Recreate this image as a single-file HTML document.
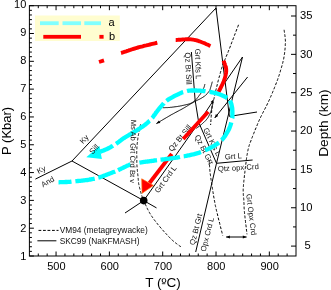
<!DOCTYPE html>
<html><head><meta charset="utf-8"><title>P-T diagram</title>
<style>html,body{margin:0;padding:0;background:#fff}body{width:331px;height:290px;overflow:hidden}</style></head>
<body>
<svg width="331" height="290" viewBox="0 0 331 290" style="display:block;font-family:'Liberation Sans',sans-serif">
<rect width="331" height="290" fill="#fff"/>
<rect x="35" y="15.5" width="84.8" height="25.5" fill="#FFFDD0"/>
<rect x="40" y="21.3" width="18.7" height="3.8" fill="#80FFFF"/>
<rect x="62.5" y="21.3" width="18.5" height="3.8" fill="#80FFFF"/>
<rect x="84.3" y="21.3" width="16.7" height="3.8" fill="#80FFFF"/>
<rect x="43.3" y="34.9" width="37.7" height="3.8" fill="#FF0000"/>
<rect x="99.4" y="34.9" width="4.2" height="3.8" fill="#FF0000"/>
<text x="108.6" y="26.3" font-size="11">a</text>
<text x="109" y="40" font-size="11">b</text>
<path d="M35.4,179.1 L72.0,161.0" stroke="#000" stroke-width="1" fill="none"/>
<path d="M72.0,161.0 L216.0,8.0" stroke="#000" stroke-width="1" fill="none"/>
<path d="M72.0,161.0 L143.7,200.6 L156.5,207.9" stroke="#000" stroke-width="1" fill="none"/>
<path d="M125.0,213.0 L143.7,200.6" stroke="#000" stroke-width="1" fill="none"/>
<path d="M143.7,200.6 L197.5,124.5 L213.3,100.6" stroke="#000" stroke-width="1" fill="none"/>
<path d="M191.4,52.0 L195.1,100.0 L198.4,120.5 L199.2,123.5 L216.5,163.3" stroke="#000" stroke-width="1" fill="none"/>
<path d="M242.5,57.0 L216.5,163.3 L195.7,252.0" stroke="#000" stroke-width="1" fill="none"/>
<path d="M242.5,57.0 L225.3,82.0" stroke="#000" stroke-width="1" fill="none"/>
<path d="M216.0,8.0 L229.4,116.4" stroke="#000" stroke-width="1" fill="none"/>
<path d="M229.4,116.4 L257.0,112.0" stroke="#000" stroke-width="1" fill="none"/>
<path d="M247.6,77.0 L214.7,118.0" stroke="#000" stroke-width="1" fill="none"/>
<path d="M216.5,163.3 L252.6,160.0" stroke="#000" stroke-width="1" fill="none"/>
<path d="M226.1,237.0 L246.6,237.0" stroke="#000" stroke-width="1" fill="none"/>
<path d="M205.0,84.0 L204.9,84.3 L204.8,84.6 L204.7,84.8 L204.7,85.1 L204.6,85.4 L204.5,85.6 L204.4,85.9 L204.4,86.2 L204.3,86.5 L204.2,86.7 L204.1,87.0 L204.0,87.3 L203.9,87.6 L203.8,87.9 L203.6,88.2 L203.5,88.5 L203.4,88.8 L203.2,89.1 L203.1,89.4 L202.9,89.8 L202.8,90.1 L202.6,90.4 L202.4,90.7 L202.3,91.1 L202.1,91.4 L201.9,91.8 L201.7,92.1 L201.4,92.5 L201.2,92.9 L200.9,93.3 L200.6,93.7 L200.3,94.1 L200.0,94.5 L199.6,95.0 L199.2,95.5 L198.8,96.1 L198.4,96.6 L198.0,97.2 L197.5,97.7 L197.1,98.3 L196.6,98.8 L196.1,99.4 L195.6,99.9 L195.1,100.4 L194.6,100.9 L194.0,101.4 L193.5,101.8 L192.9,102.2 L192.3,102.5 L191.7,102.9 L191.1,103.2 L190.5,103.4 L189.8,103.7 L189.2,103.9 L188.5,104.1 L187.8,104.3 L187.1,104.5 L186.4,104.6 L185.7,104.8 L185.0,105.0 L184.3,105.1 L183.5,105.3 L182.8,105.4 L182.1,105.6 L181.4,105.8 L180.6,105.9 L179.8,106.1 L179.1,106.2 L178.3,106.3 L177.4,106.5 L176.6,106.6 L175.8,106.7 L175.0,106.8 L174.2,106.9 L173.5,107.0 L172.7,107.1 L172.0,107.2 L171.3,107.3 L170.6,107.3 L170.0,107.4 L169.4,107.5 L168.9,107.5 L168.3,107.5 L167.8,107.6 L167.4,107.6 L166.9,107.6 L166.5,107.6 L166.0,107.6 L165.6,107.6 L165.2,107.7 L164.8,107.7 L164.4,107.7 L164.0,107.7 L163.6,107.7 L163.1,107.7 L162.7,107.7" stroke="#000" stroke-width="1" fill="none"/>
<path d="M196.0,128.5 L196.3,128.3 L196.6,128.1 L196.9,127.8 L197.2,127.6 L197.5,127.4 L197.8,127.2 L198.1,127.0 L198.4,126.8 L198.7,126.6 L199.0,126.4 L199.3,126.1 L199.7,125.9 L200.0,125.6 L200.3,125.4 L200.7,125.1 L201.0,124.8 L201.4,124.5 L201.7,124.2 L202.1,123.8 L202.5,123.5 L202.9,123.1 L203.3,122.7 L203.8,122.4 L204.2,122.0 L204.6,121.6 L205.0,121.2 L205.4,120.8 L205.8,120.4 L206.2,120.0 L206.5,119.5 L206.9,119.1 L207.2,118.7 L207.5,118.3 L207.8,117.8 L208.1,117.4 L208.4,117.0 L208.6,116.5 L208.9,116.1 L209.1,115.6 L209.3,115.1 L209.6,114.7 L209.8,114.2 L210.0,113.7 L210.2,113.2 L210.4,112.7 L210.6,112.2 L210.8,111.7 L211.0,111.2 L211.2,110.7 L211.4,110.1 L211.5,109.6 L211.7,109.0 L211.8,108.5 L211.9,107.9 L212.1,107.3 L212.2,106.7 L212.3,106.1 L212.4,105.5 L212.6,104.9 L212.7,104.3 L212.8,103.7 L212.9,103.2 L213.1,102.6 L213.2,102.0" stroke="#000" stroke-width="1" fill="none"/>
<path d="M212.3,81.7 L212.2,82.0 L212.1,82.4 L212.0,82.7 L211.9,83.0 L211.8,83.4 L211.8,83.7 L211.7,84.1 L211.6,84.4 L211.5,84.7 L211.4,85.1 L211.3,85.4 L211.2,85.7 L211.1,86.1 L211.0,86.4 L210.9,86.7 L210.8,87.0 L210.7,87.3 L210.6,87.6 L210.5,87.9 L210.5,88.1 L210.4,88.4 L210.3,88.7 L210.2,88.9 L210.1,89.2 L210.1,89.5 L210.0,89.7 L209.8,90.0 L209.7,90.3 L209.6,90.5 L209.4,90.8 L209.2,91.1 L209.0,91.4 L208.8,91.7 L208.5,92.0 L208.3,92.3 L208.0,92.7 L207.8,93.0 L207.5,93.3 L207.2,93.7 L206.8,94.0 L206.5,94.4 L206.2,94.7 L205.8,95.1 L205.4,95.4 L205.0,95.8 L204.5,96.1 L204.1,96.5 L203.6,96.8 L203.1,97.1 L202.5,97.5 L201.9,97.9 L201.3,98.2 L200.6,98.6 L200.0,98.9 L199.3,99.3 L198.6,99.6 L197.8,100.0 L197.1,100.3 L196.4,100.7 L195.7,101.1 L195.0,101.4 L194.3,101.8 L193.6,102.1 L193.0,102.5 L192.4,102.9 L191.8,103.2 L191.2,103.5 L190.6,103.9 L190.1,104.2 L189.5,104.6 L189.0,104.9 L188.4,105.2 L187.9,105.6 L187.3,105.9 L186.7,106.3 L186.1,106.7 L185.5,107.0 L184.9,107.4 L184.2,107.8 L183.5,108.2 L182.8,108.6 L182.0,109.0 L181.2,109.5 L180.4,109.9 L179.6,110.3 L178.7,110.8 L177.9,111.2 L177.0,111.7 L176.1,112.2 L175.2,112.6 L174.4,113.1 L173.5,113.6 L172.6,114.1 L171.7,114.5 L170.9,115.0 L170.0,115.5 L169.2,116.0 L168.3,116.5 L167.5,117.0 L166.6,117.5 L165.8,118.0 L164.9,118.5 L164.1,119.0 L163.2,119.5 L162.4,120.0 L161.5,120.5 L160.7,121.0 L159.8,121.6 L159.0,122.1 L158.1,122.6 L157.3,123.1 L156.4,123.6" stroke="#000" stroke-width="1" fill="none"/>
<path d="M156.4,123.6 L158.9,120.4 L160.4,122.9Z" fill="#000"/>
<path d="M214.7,118.0 L215.9,114.1 L218.2,116.0Z" fill="#000"/>
<path d="M213.5,99.4 L213.3,103.3 L210.6,102.0Z" fill="#000"/>
<path d="M226.1,237.0 L229.9,235.5 L229.9,238.5Z" fill="#000"/>
<path d="M246.6,237.0 L242.8,238.5 L242.8,235.5Z" fill="#000"/>
<path d="M140.5,124.4 L140.4,124.9 L140.3,125.5 L140.2,126.0 L140.1,126.6 L140.0,127.1 L139.8,127.7 L139.7,128.2 L139.6,128.8 L139.5,129.3 L139.4,129.9 L139.3,130.4 L139.2,131.0 L139.1,131.5 L139.0,132.0 L138.9,132.5 L138.8,133.0 L138.7,133.5 L138.6,133.9 L138.5,134.4 L138.5,134.8 L138.4,135.2 L138.3,135.6 L138.2,136.0 L138.1,136.4 L138.1,136.8 L138.0,137.2 L137.9,137.6 L137.9,138.1 L137.8,138.5 L137.7,139.0 L137.7,139.5 L137.6,140.0 L137.5,140.5 L137.5,141.1 L137.4,141.7 L137.4,142.3 L137.3,143.0 L137.2,143.6 L137.2,144.3 L137.1,144.9 L137.1,145.6 L137.0,146.3 L137.0,146.9 L136.9,147.6 L136.9,148.2 L136.9,148.8 L136.8,149.4 L136.8,150.0 L136.8,150.6 L136.8,151.1 L136.7,151.6 L136.7,152.1 L136.7,152.6 L136.7,153.1 L136.7,153.6 L136.7,154.1 L136.7,154.6 L136.8,155.1 L136.8,155.5 L136.8,156.0 L136.8,156.5 L136.8,157.0 L136.8,157.5 L136.8,158.0 L136.8,158.5 L136.8,159.0 L136.8,159.5 L136.8,160.0 L136.8,160.5 L136.8,161.0 L136.8,161.6 L136.8,162.1 L136.8,162.6 L136.9,163.1 L136.9,163.6 L136.9,164.2 L136.9,164.7 L136.9,165.3 L137.0,165.8 L137.0,166.4 L137.0,167.0 L137.1,167.6 L137.1,168.2 L137.2,168.9 L137.3,169.5 L137.3,170.2 L137.4,170.8 L137.5,171.5 L137.5,172.1 L137.6,172.8 L137.7,173.5 L137.7,174.1 L137.8,174.7 L137.9,175.3 L137.9,175.9 L138.0,176.5 L138.1,177.0 L138.1,177.6 L138.1,178.1 L138.2,178.6 L138.2,179.1 L138.3,179.6 L138.3,180.0 L138.3,180.5 L138.4,180.9 L138.4,181.4 L138.5,181.9 L138.5,182.3 L138.6,182.8 L138.6,183.3 L138.7,183.8 L138.8,184.3 L138.9,184.8 L139.0,185.4 L139.1,185.9 L139.2,186.4 L139.4,187.0 L139.5,187.5 L139.6,188.1 L139.8,188.7 L139.9,189.2 L140.1,189.8 L140.2,190.3 L140.4,190.9 L140.5,191.4 L140.7,192.0 L140.8,192.5 L141.0,193.0 L141.1,193.5 L141.3,194.0 L141.4,194.4 L141.6,194.9 L141.7,195.3 L141.8,195.7 L142.0,196.1 L142.1,196.5 L142.2,197.0 L142.4,197.4 L142.6,197.9 L142.8,198.4 L143.0,198.9 L143.2,199.4 L143.4,200.0 L143.7,200.6 L144.0,201.3 L144.3,202.0 L144.6,202.7 L145.0,203.5 L145.3,204.3 L145.7,205.1 L146.1,205.9 L146.5,206.8 L146.9,207.6 L147.3,208.5 L147.7,209.4 L148.2,210.2 L148.6,211.1 L149.1,211.9 L149.5,212.7 L150.0,213.5 L150.5,214.3 L150.9,215.0 L151.4,215.8 L151.9,216.5 L152.4,217.2 L152.9,217.9 L153.4,218.7 L153.9,219.4 L154.5,220.1 L155.0,220.8 L155.6,221.5 L156.2,222.3 L156.8,223.0 L157.4,223.8 L158.0,224.6 L158.7,225.4 L159.4,226.2 L160.1,227.1 L160.9,228.0 L161.7,228.9 L162.5,229.9 L163.4,230.8 L164.2,231.8 L165.1,232.7 L166.0,233.7 L166.8,234.6 L167.7,235.5 L168.5,236.4 L169.4,237.3 L170.2,238.1 L170.9,238.9 L171.7,239.6 L172.4,240.3 L173.1,240.9 L173.8,241.5 L174.5,242.1 L175.2,242.6 L175.8,243.1 L176.5,243.6 L177.1,244.1 L177.7,244.5 L178.4,245.0 L179.0,245.4 L179.6,245.9 L180.3,246.3 L180.9,246.8 L181.5,247.3 L182.2,247.8" stroke="#000" stroke-width="1" fill="none" stroke-dasharray="2.8,1.7"/>
<path d="M238.5,24.8 L237.9,26.5 L237.2,28.2 L236.5,30.0 L235.9,31.7 L235.2,33.5 L234.5,35.3 L233.8,37.1 L233.2,38.8 L232.5,40.6 L231.8,42.3 L231.2,44.0 L230.6,45.6 L230.0,47.2 L229.4,48.7 L228.8,50.1 L228.3,51.5 L227.8,52.8 L227.3,53.9 L226.9,55.0 L226.4,56.0 L226.0,57.0 L225.6,57.9 L225.3,58.8 L224.9,59.6 L224.5,60.5 L224.2,61.3 L223.8,62.2 L223.5,63.1 L223.1,64.0 L222.7,65.0 L222.4,66.1 L222.0,67.2 L221.6,68.4 L221.2,69.8 L220.8,71.2 L220.4,72.6 L220.0,74.2 L219.6,75.7 L219.1,77.3 L218.7,78.8 L218.3,80.4 L217.9,81.9 L217.6,83.4 L217.2,84.8 L216.9,86.1 L216.6,87.4 L216.3,88.6 L216.0,89.6 L215.8,90.5 L215.6,91.4 L215.4,92.2 L215.2,92.9 L215.1,93.5 L214.9,94.1 L214.8,94.7 L214.7,95.2 L214.6,95.6 L214.6,96.1 L214.5,96.5 L214.4,96.9 L214.3,97.3 L214.2,97.7 L214.1,98.2 L214.0,98.6 L213.9,99.0 L213.8,99.3 L213.7,99.6 L213.6,99.8 L213.4,100.0 L213.3,100.2 L213.2,100.4 L213.1,100.5 L213.0,100.8 L212.9,101.0 L212.8,101.3 L212.7,101.6 L212.6,102.1 L212.5,102.6 L212.4,103.2 L212.3,104.0 L212.2,104.9 L212.1,105.9 L212.0,107.0 L211.9,108.2 L211.8,109.4 L211.7,110.7 L211.6,112.1 L211.5,113.5 L211.3,115.0 L211.2,116.4 L211.1,117.9 L211.0,119.4 L210.9,120.8 L210.8,122.3 L210.7,123.7 L210.6,125.0" stroke="#000" stroke-width="1" fill="none" stroke-dasharray="2.8,1.7"/>
<path d="M209.2,160.0 L209.2,160.7 L209.3,161.5 L209.3,162.2 L209.4,163.0 L209.4,163.7 L209.5,164.5 L209.5,165.2 L209.5,166.0 L209.6,166.7 L209.6,167.5 L209.7,168.2 L209.7,169.0 L209.8,169.7 L209.9,170.5 L209.9,171.2 L210.0,172.0 L210.1,172.8 L210.2,173.5 L210.3,174.2 L210.4,175.0 L210.5,175.7 L210.6,176.4 L210.7,177.2 L210.8,177.9 L210.9,178.7 L211.0,179.4 L211.1,180.2 L211.3,181.0 L211.4,181.8 L211.5,182.6 L211.7,183.5 L211.8,184.4 L211.9,185.3 L212.1,186.3 L212.3,187.3 L212.4,188.4 L212.6,189.4 L212.8,190.5 L212.9,191.6 L213.1,192.7 L213.3,193.9 L213.5,194.9 L213.6,196.0 L213.8,197.1 L214.0,198.1 L214.2,199.1 L214.3,200.1 L214.5,201.0 L214.7,201.8 L214.8,202.6 L214.9,203.3 L215.1,204.0 L215.2,204.6 L215.3,205.3 L215.4,205.9 L215.6,206.5 L215.7,207.1 L215.8,207.7 L216.0,208.4 L216.2,209.1 L216.3,209.9 L216.5,210.7 L216.8,211.7 L217.0,212.7 L217.3,213.8 L217.6,215.0 L217.9,216.3 L218.2,217.6 L218.5,219.0 L218.9,220.4 L219.3,221.9 L219.7,223.4 L220.0,224.9 L220.4,226.5 L220.8,228.0 L221.2,229.5 L221.6,231.1 L222.0,232.6 L222.3,234.1 L222.7,235.5" stroke="#000" stroke-width="1" fill="none" stroke-dasharray="2.8,1.7"/>
<path d="M284.1,29.8 L284.2,30.5 L284.3,31.3 L284.4,32.0 L284.5,32.7 L284.6,33.4 L284.7,34.1 L284.8,34.8 L284.9,35.5 L285.0,36.3 L285.1,37.0 L285.2,37.7 L285.3,38.5 L285.3,39.3 L285.4,40.0 L285.4,40.9 L285.4,41.7 L285.4,42.6 L285.4,43.5 L285.3,44.4 L285.3,45.3 L285.2,46.3 L285.2,47.2 L285.1,48.2 L285.0,49.2 L284.9,50.2 L284.8,51.2 L284.7,52.2 L284.6,53.2 L284.4,54.2 L284.3,55.1 L284.2,56.1 L284.0,57.0 L283.8,57.9 L283.7,58.8 L283.5,59.7 L283.3,60.7 L283.0,61.6 L282.8,62.5 L282.6,63.4 L282.3,64.3 L282.1,65.2 L281.9,66.0 L281.6,66.9 L281.4,67.7 L281.1,68.6 L280.9,69.4 L280.6,70.2 L280.4,71.0 L280.2,71.8 L280.0,72.5 L279.8,73.1 L279.6,73.8 L279.4,74.4 L279.2,75.0 L279.0,75.6 L278.8,76.1 L278.6,76.7 L278.4,77.4 L278.2,78.0 L277.9,78.7 L277.7,79.4 L277.4,80.2 L277.1,81.1 L276.7,82.0 L276.3,83.0 L275.9,84.1 L275.4,85.2 L275.0,86.4 L274.5,87.6 L274.0,88.9 L273.5,90.1 L272.9,91.5 L272.4,92.8 L271.8,94.1 L271.3,95.4 L270.7,96.7 L270.1,98.0 L269.6,99.3 L269.0,100.5 L268.5,101.7 L268.0,102.8 L267.4,103.9 L266.9,105.0 L266.4,106.1 L265.8,107.1 L265.3,108.2 L264.7,109.2 L264.2,110.2 L263.7,111.2 L263.1,112.3 L262.6,113.3 L262.0,114.4 L261.5,115.5 L260.9,116.6 L260.4,117.8 L259.8,119.0 L259.2,120.3 L258.6,121.6 L258.0,123.0 L257.4,124.5 L256.8,126.0 L256.2,127.5 L255.5,129.0 L254.9,130.5 L254.3,132.0 L253.7,133.5 L253.2,134.9 L252.6,136.3 L252.1,137.6 L251.6,138.8 L251.2,140.0 L250.8,141.0 L250.5,141.9 L250.1,142.7 L249.9,143.5 L249.6,144.1 L249.4,144.7 L249.3,145.2 L249.1,145.7 L249.0,146.2 L248.8,146.6 L248.7,147.0 L248.6,147.5 L248.5,147.9 L248.4,148.4 L248.3,148.9 L248.1,149.4 L248.0,150.0 L247.9,150.6 L247.7,151.2 L247.6,151.9 L247.5,152.5 L247.4,153.1 L247.3,153.7 L247.2,154.4 L247.1,155.0 L246.9,155.7 L246.8,156.3 L246.7,157.1 L246.6,157.8 L246.5,158.5 L246.4,159.3 L246.3,160.1 L246.2,161.0 L246.1,161.9 L246.0,162.9 L245.8,163.9 L245.7,164.9 L245.6,166.0 L245.4,167.2 L245.3,168.3 L245.1,169.4 L245.0,170.6 L244.9,171.7 L244.8,172.9 L244.6,174.0 L244.5,175.0 L244.4,176.1 L244.3,177.1 L244.2,178.0 L244.1,178.9 L244.0,179.8 L243.9,180.6 L243.8,181.4 L243.8,182.2 L243.7,183.0 L243.6,183.7 L243.5,184.4 L243.5,185.2 L243.4,185.9 L243.4,186.6 L243.3,187.3 L243.3,187.9 L243.2,188.6 L243.2,189.3 L243.2,190.0 L243.2,190.7 L243.2,191.3 L243.2,192.0 L243.2,192.6 L243.3,193.2 L243.3,193.8 L243.3,194.4 L243.4,195.0 L243.4,195.5 L243.5,196.1 L243.6,196.7 L243.6,197.4 L243.7,198.0 L243.7,198.6 L243.8,199.3 L243.8,200.0 L243.8,200.7 L243.9,201.4 L243.9,202.1 L243.9,202.8 L244.0,203.5 L244.0,204.2 L244.0,204.9 L244.0,205.6 L244.1,206.4 L244.1,207.2 L244.1,208.0 L244.2,208.8 L244.3,209.7 L244.3,210.7 L244.4,211.7 L244.5,212.7 L244.6,213.8 L244.7,215.0 L244.9,216.2 L245.0,217.5 L245.1,218.8 L245.3,220.1 L245.5,221.5 L245.6,222.9 L245.8,224.4 L246.0,225.8 L246.2,227.3 L246.3,228.7 L246.5,230.1 L246.7,231.5 L246.8,232.9 L247.0,234.3" stroke="#000" stroke-width="1" fill="none" stroke-dasharray="2.8,1.7"/>
<text transform="translate(42.5,172) rotate(-27)" font-size="7.7" text-anchor="middle" fill="#111">Ky</text>
<text transform="translate(49,184) rotate(-30)" font-size="7.7" text-anchor="middle" fill="#111">And</text>
<text transform="translate(86,141) rotate(-47)" font-size="7.7" text-anchor="middle" fill="#111">Ky</text>
<text transform="translate(195.0,48.7) rotate(88.5)" font-size="7.8" text-anchor="start" fill="#111">Grt Kfs L</text>
<text transform="translate(185.0,52.6) rotate(87.5)" font-size="7.8" text-anchor="start" fill="#111">Qz Bt Sill</text>
<text transform="translate(172,152) rotate(-51)" font-size="7.7" text-anchor="start" fill="#111">Qz Bt Sill</text>
<text transform="translate(158.5,193.5) rotate(-54)" font-size="7.7" text-anchor="start" fill="#111">Grt Crd L</text>
<text transform="translate(203,129.5) rotate(63)" font-size="7.7" text-anchor="start" fill="#111">Grt Kfs L</text>
<text transform="translate(194.5,136.5) rotate(63)" font-size="7.7" text-anchor="start" fill="#111">Qz Bt Grt</text>
<text transform="translate(225,159.5) rotate(-4)" font-size="7.7" text-anchor="start" fill="#111">Grt L</text>
<text transform="translate(218,171.5) rotate(-3.5)" font-size="7.7" text-anchor="start" fill="#111">Qtz opx Crd</text>
<text transform="translate(246.3,194.3) rotate(83)" font-size="7.7" text-anchor="start" fill="#111">Grt Opx Crd</text>
<text transform="translate(194.5,245.5) rotate(-76)" font-size="7.7" text-anchor="start" fill="#111">Qz Bt Grt</text>
<text transform="translate(205.5,252) rotate(-76)" font-size="7.7" text-anchor="start" fill="#111">Opx Crd L</text>
<path d="M99,62 L104,60.4" stroke="#FF0000" stroke-width="3.9" fill="none"/>
<path d="M121.0,53.0 L122.1,52.7 L123.1,52.3 L124.2,52.0 L125.2,51.6 L126.2,51.3 L127.3,50.9 L128.3,50.6 L129.4,50.2 L130.4,49.9 L131.5,49.5 L132.5,49.2 L133.6,48.8 L134.7,48.5 L135.8,48.2 L136.9,47.8 L138.0,47.5 L139.1,47.2 L140.3,46.9 L141.5,46.6 L142.7,46.3 L143.9,45.9 L145.1,45.6 L146.3,45.4 L147.5,45.1 L148.7,44.8 L150.0,44.5 L151.2,44.2 L152.4,43.9 L153.6,43.6 L154.9,43.3 L156.1,43.0 L157.3,42.7" stroke="#FF0000" stroke-width="3.9" fill="none"/>
<path d="M175.7,40.0 L176.6,40.0 L177.5,39.9 L178.4,39.8 L179.4,39.8 L180.3,39.7 L181.3,39.6 L182.2,39.5 L183.1,39.5 L184.0,39.4 L185.0,39.4 L185.8,39.3 L186.7,39.3 L187.6,39.3 L188.4,39.2 L189.2,39.3 L190.0,39.3 L190.7,39.4 L191.5,39.4 L192.1,39.5 L192.8,39.6 L193.4,39.7 L194.0,39.8 L194.6,39.9 L195.2,40.1 L195.8,40.2 L196.4,40.4 L197.0,40.5 L197.6,40.7 L198.2,40.9 L198.8,41.1 L199.4,41.3 L200.0,41.5 L200.6,41.7 L201.3,42.0 L201.9,42.2 L202.6,42.5 L203.2,42.7 L203.9,43.0 L204.6,43.3 L205.2,43.6 L205.9,43.9 L206.5,44.2 L207.2,44.5 L207.9,44.8 L208.5,45.1 L209.2,45.4 L209.8,45.7 L210.5,46.0" stroke="#FF0000" stroke-width="3.9" fill="none"/>
<path d="M223.5,60.6 L223.7,61.2 L223.9,61.7 L224.1,62.3 L224.3,62.8 L224.5,63.4 L224.7,64.0 L224.9,64.5 L225.1,65.1 L225.3,65.6 L225.5,66.2 L225.7,66.8 L225.9,67.3 L226.0,67.9 L226.1,68.5 L226.2,69.1 L226.2,69.7 L226.2,70.3 L226.2,70.9 L226.2,71.5 L226.1,72.2 L226.0,72.8 L226.0,73.4 L225.8,74.0 L225.7,74.7 L225.6,75.3 L225.4,76.0 L225.2,76.6 L225.1,77.3 L224.9,77.9 L224.7,78.6 L224.4,79.3 L224.2,80.0 L223.9,80.7 L223.7,81.4 L223.4,82.1 L223.1,82.9 L222.7,83.6 L222.4,84.4 L222.0,85.1 L221.6,85.9 L221.2,86.7 L220.9,87.4 L220.5,88.2 L220.1,89.0 L219.7,89.7 L219.3,90.5 L219.0,91.2 L218.6,92.0" stroke="#FF0000" stroke-width="3.9" fill="none"/>
<path d="M208.2,111.8 L183.2,139" stroke="#FF0000" stroke-width="3.9" fill="none"/>
<path d="M171.8,153.9 L149.5,183" stroke="#FF0000" stroke-width="3.9" fill="none"/>
<path d="M142.1,193.3 L141.7,178.8 L153.4,185.4Z" fill="#FF0000" stroke="#FF6A00" stroke-width="0.7" stroke-linejoin="round"/>
<path d="M58.5,182.3 L59.1,182.3 L59.7,182.2 L60.3,182.2 L60.8,182.2 L61.4,182.2 L62.0,182.1 L62.5,182.1 L63.1,182.1 L63.6,182.1 L64.2,182.1 L64.7,182.1 L65.3,182.0 L65.9,182.0 L66.4,182.0 L67.0,182.0 L67.6,181.9 L68.2,181.9 L68.9,181.8 L69.5,181.8 L70.2,181.8 L70.8,181.7 L71.5,181.6" stroke="#00FFFF" stroke-width="4.3" fill="none"/>
<path d="M75.4,181.3 L76.2,181.2 L77.1,181.1 L77.9,181.0 L78.8,180.9 L79.7,180.8 L80.7,180.8 L81.6,180.7 L82.5,180.6 L83.5,180.4 L84.4,180.3 L85.4,180.2 L86.3,180.1 L87.3,180.0 L88.2,179.8 L89.2,179.7 L90.1,179.5 L91.1,179.4 L92.0,179.2 L92.9,179.0 L93.8,178.8 L94.7,178.6" stroke="#00FFFF" stroke-width="4.3" fill="none"/>
<path d="M98.3,177.6 L99.2,177.4 L100.1,177.1 L101.0,176.8 L101.9,176.5 L102.7,176.2 L103.6,175.9 L104.5,175.6 L105.4,175.2 L106.3,174.9 L107.2,174.6 L108.0,174.2 L108.9,173.9 L109.7,173.6 L110.5,173.3 L111.4,172.9 L112.2,172.6 L112.9,172.3 L113.7,172.0 L114.5,171.7 L115.2,171.4" stroke="#00FFFF" stroke-width="4.3" fill="none"/>
<path d="M118.0,170.2 L118.6,169.9 L119.3,169.6 L119.9,169.3 L120.6,169.0 L121.2,168.7 L121.8,168.4 L122.4,168.1 L123.0,167.8 L123.6,167.5 L124.1,167.2 L124.7,166.9 L125.2,166.7 L125.8,166.4 L126.3,166.1 L126.9,165.9 L127.4,165.6 L127.9,165.4 L128.5,165.2 L129.0,165.0 L129.5,164.8 L130.0,164.6 L130.5,164.5" stroke="#00FFFF" stroke-width="4.3" fill="none"/>
<path d="M139.4,162.7 L140.0,162.6 L140.6,162.5 L141.2,162.4 L141.8,162.3 L142.4,162.2 L143.0,162.1 L143.7,162.0 L144.3,161.9 L145.0,161.8 L145.6,161.7 L146.3,161.7 L147.0,161.6 L147.7,161.5 L148.4,161.4 L149.2,161.3 L149.9,161.2 L150.6,161.1 L151.4,161.0 L152.2,160.9 L153.0,160.8 L153.7,160.6 L154.5,160.5 L155.4,160.4 L156.2,160.3 L157.0,160.2" stroke="#00FFFF" stroke-width="4.3" fill="none"/>
<path d="M160.5,159.7 L161.4,159.6 L162.4,159.5 L163.3,159.4 L164.3,159.3 L165.3,159.1 L166.3,159.0 L167.3,158.9 L168.2,158.8 L169.3,158.6 L170.3,158.5 L171.3,158.4 L172.3,158.2 L173.3,158.1 L174.2,157.9 L175.2,157.8 L176.2,157.6 L177.2,157.5 L178.1,157.3 L179.1,157.2 L180.0,157.0" stroke="#00FFFF" stroke-width="4.3" fill="none"/>
<path d="M183.7,156.3 L184.6,156.2 L185.5,156.0 L186.4,155.8 L187.3,155.6 L188.2,155.5 L189.0,155.3 L189.9,155.1 L190.8,154.9 L191.7,154.7 L192.6,154.5 L193.4,154.3 L194.3,154.1 L195.2,153.8 L196.0,153.6 L196.9,153.4 L197.7,153.1 L198.5,152.9 L199.4,152.6 L200.2,152.3 L201.0,152.0" stroke="#00FFFF" stroke-width="4.3" fill="none"/>
<path d="M205.1,150.3 L205.9,150.0 L206.7,149.6 L207.6,149.2 L208.4,148.9 L209.2,148.5 L210.0,148.1 L210.8,147.7 L211.5,147.2 L212.3,146.8 L213.0,146.4 L213.8,146.0 L214.5,145.6 L215.2,145.1 L215.9,144.7 L216.6,144.3 L217.2,143.8 L217.8,143.4 L218.4,142.9 L219.0,142.5" stroke="#00FFFF" stroke-width="4.3" fill="none"/>
<path d="M221.6,140.2 L222.0,139.8 L222.4,139.3 L222.9,138.8 L223.3,138.3 L223.6,137.8 L224.0,137.3 L224.4,136.8 L224.7,136.4 L225.1,135.9 L225.4,135.4 L225.7,134.9 L226.0,134.4 L226.3,133.9 L226.6,133.4 L226.9,132.9 L227.2,132.4 L227.5,131.9 L227.7,131.5 L228.0,131.0 L228.3,130.5 L228.5,130.1 L228.8,129.6 L229.0,129.1 L229.2,128.6 L229.4,128.1 L229.6,127.6 L229.8,127.1 L230.0,126.7 L230.2,126.2 L230.3,125.7 L230.5,125.2 L230.6,124.7 L230.8,124.3 L230.9,123.8 L231.0,123.4 L231.2,122.9 L231.3,122.5" stroke="#00FFFF" stroke-width="4.3" fill="none"/>
<path d="M232.2,118.3 L232.3,118.0 L232.3,117.7 L232.4,117.4 L232.4,117.1 L232.4,116.8 L232.4,116.5 L232.4,116.2 L232.4,115.9 L232.4,115.7 L232.4,115.4 L232.4,115.1 L232.4,114.9 L232.4,114.6 L232.4,114.4 L232.4,114.1 L232.4,113.8 L232.4,113.6 L232.4,113.3 L232.4,113.0 L232.4,112.7 L232.4,112.4 L232.4,112.2 L232.4,111.9 L232.4,111.6 L232.4,111.3 L232.4,111.0 L232.4,110.8 L232.3,110.5 L232.3,110.2 L232.3,109.9 L232.3,109.7 L232.3,109.4 L232.3,109.1 L232.2,108.9 L232.2,108.6 L232.2,108.3 L232.1,108.1 L232.1,107.8 L232.1,107.5 L232.0,107.3 L232.0,107.0 L231.9,106.8 L231.9,106.5 L231.8,106.2 L231.8,106.0 L231.7,105.7 L231.7,105.5 L231.6,105.2 L231.6,105.0 L231.5,104.7 L231.4,104.4 L231.4,104.2 L231.3,103.9 L231.2,103.7 L231.1,103.4 L231.1,103.2 L231.0,103.0 L230.9,102.7 L230.8,102.5 L230.7,102.3 L230.6,102.0 L230.5,101.8 L230.4,101.6 L230.3,101.4 L230.2,101.2 L230.1,101.0 L230.0,100.8 L229.9,100.6" stroke="#00FFFF" stroke-width="4.3" fill="none"/>
<path d="M227.3,98.0 L227.1,97.9 L226.8,97.7 L226.6,97.6 L226.3,97.5 L226.1,97.3 L225.8,97.1 L225.5,97.0 L225.2,96.8 L224.8,96.6 L224.5,96.5 L224.1,96.3 L223.8,96.1 L223.4,96.0 L223.0,95.8 L222.6,95.6 L222.3,95.5 L221.9,95.3 L221.5,95.1 L221.1,95.0 L220.7,94.8 L220.3,94.6 L219.9,94.5 L219.5,94.3 L219.1,94.2 L218.7,94.1 L218.4,93.9 L218.0,93.8 L217.6,93.7 L217.3,93.6 L216.9,93.5 L216.5,93.4 L216.2,93.3 L215.8,93.2 L215.5,93.1 L215.1,93.0 L214.7,92.9 L214.4,92.8 L214.0,92.7 L213.7,92.6 L213.3,92.6 L212.9,92.5 L212.5,92.4 L212.2,92.3 L211.8,92.3 L211.4,92.2 L211.0,92.1 L210.6,92.1 L210.2,92.0 L209.8,91.9 L209.4,91.9" stroke="#00FFFF" stroke-width="4.3" fill="none"/>
<path d="M205.5,91.3 L205.0,91.2 L204.6,91.2 L204.1,91.1 L203.6,91.0 L203.2,91.0 L202.7,90.9 L202.2,90.9 L201.7,90.9 L201.3,90.8 L200.8,90.8 L200.3,90.7 L199.9,90.7 L199.4,90.7 L198.9,90.6 L198.5,90.6 L198.0,90.6 L197.5,90.6 L197.1,90.6 L196.6,90.6 L196.2,90.5 L195.7,90.5 L195.2,90.5 L194.8,90.5 L194.3,90.5 L193.8,90.5 L193.4,90.5 L192.9,90.5 L192.4,90.5 L192.0,90.5 L191.5,90.5 L191.1,90.5 L190.6,90.6 L190.1,90.6 L189.7,90.6 L189.2,90.7 L188.8,90.7 L188.3,90.8 L187.9,90.8 L187.4,90.9 L187.0,91.0" stroke="#00FFFF" stroke-width="4.3" fill="none"/>
<path d="M183.2,92.1 L182.8,92.2 L182.4,92.4 L182.0,92.5 L181.6,92.7 L181.2,92.9 L180.7,93.1 L180.3,93.2 L179.9,93.4 L179.5,93.6 L179.1,93.8 L178.7,94.0 L178.3,94.2 L177.8,94.4 L177.4,94.6 L177.0,94.8 L176.6,95.0 L176.1,95.2 L175.7,95.4 L175.2,95.7 L174.8,95.9 L174.4,96.1 L173.9,96.3 L173.4,96.6 L173.0,96.8 L172.5,97.1 L172.1,97.3 L171.6,97.6 L171.2,97.8 L170.7,98.1 L170.3,98.3 L169.8,98.6 L169.4,98.9 L169.0,99.1 L168.5,99.4 L168.1,99.7 L167.7,100.0 L167.3,100.3 L166.9,100.6 L166.5,100.9" stroke="#00FFFF" stroke-width="4.3" fill="none"/>
<path d="M163.9,103.2 L163.6,103.6 L163.2,103.9 L162.9,104.3 L162.6,104.7 L162.2,105.1 L161.9,105.4 L161.6,105.8 L161.3,106.2 L161.0,106.5 L160.6,106.9 L160.3,107.3 L160.0,107.7 L159.7,108.0 L159.4,108.4 L159.1,108.8 L158.8,109.1 L158.5,109.5 L158.2,109.9 L157.9,110.2 L157.6,110.6 L157.3,110.9 L157.1,111.3 L156.8,111.7 L156.5,112.0 L156.3,112.4 L156.0,112.8 L155.8,113.1 L155.5,113.5 L155.2,113.9 L155.0,114.2 L154.7,114.6 L154.5,114.9 L154.2,115.3 L154.0,115.6 L153.7,116.0 L153.5,116.3 L153.2,116.7 L152.9,117.0 L152.7,117.4 L152.4,117.7 L152.1,118.0" stroke="#00FFFF" stroke-width="4.3" fill="none"/>
<path d="M149.7,120.7 L149.4,120.9 L149.1,121.2 L148.8,121.5 L148.6,121.8 L148.3,122.0 L148.0,122.3 L147.7,122.6 L147.4,122.8 L147.1,123.1 L146.7,123.4 L146.4,123.7 L146.1,123.9 L145.7,124.2 L145.4,124.5 L145.0,124.8 L144.6,125.1 L144.2,125.4 L143.8,125.7 L143.4,126.0 L142.9,126.3 L142.5,126.6 L142.0,126.9 L141.6,127.2 L141.1,127.5 L140.6,127.8 L140.2,128.1 L139.7,128.5 L139.2,128.8 L138.7,129.1 L138.2,129.4 L137.7,129.7 L137.3,130.0 L136.8,130.3 L136.3,130.6 L135.8,130.9 L135.4,131.2 L134.9,131.4 L134.4,131.7 L134.0,132.0 L133.6,132.3 L133.1,132.5 L132.7,132.8 L132.3,133.1 L131.8,133.3 L131.4,133.6 L130.9,133.8 L130.5,134.1 L130.1,134.3 L129.7,134.6 L129.2,134.8 L128.8,135.1 L128.4,135.3 L128.0,135.6 L127.6,135.8 L127.1,136.1 L126.7,136.3 L126.3,136.5 L125.9,136.8 L125.5,137.0 L125.1,137.3 L124.8,137.5 L124.4,137.8 L124.0,138.0 L123.6,138.2 L123.3,138.5 L122.9,138.7 L122.6,139.0 L122.2,139.2 L121.9,139.5 L121.5,139.7 L121.2,140.0 L120.9,140.2 L120.5,140.5 L120.2,140.7 L119.9,141.0 L119.6,141.2 L119.2,141.5 L118.9,141.7 L118.6,142.0 L118.3,142.2 L118.0,142.4 L117.6,142.7 L117.3,142.9 L117.0,143.1 L116.7,143.4 L116.3,143.6 L116.0,143.8" stroke="#00FFFF" stroke-width="4.3" fill="none"/>
<path d="M113.0,145.7 L112.7,145.9 L112.3,146.1 L112.0,146.3 L111.7,146.5 L111.3,146.7 L111.0,146.9 L110.7,147.1 L110.3,147.3 L110.0,147.4 L109.7,147.6 L109.3,147.8 L109.0,148.0 L108.7,148.2 L108.3,148.3 L108.0,148.5 L107.7,148.7 L107.3,148.8 L107.0,149.0 L106.7,149.1 L106.3,149.3 L106.0,149.4 L105.7,149.6 L105.3,149.7 L105.0,149.8 L104.7,150.0 L104.3,150.1 L104.0,150.2 L103.7,150.4 L103.3,150.5 L103.0,150.6 L102.7,150.8 L102.3,150.9 L102.0,151.0 L101.7,151.1 L101.3,151.3 L101.0,151.4 L100.7,151.5 L100.3,151.7 L100.0,151.8" stroke="#00FFFF" stroke-width="4.3" fill="none"/>
<path d="M86.3,157.2 L99.4,145.7 L101.9,158.9Z" fill="#00FFFF"/>
<text transform="translate(131,119.7) rotate(91)" font-size="7.6" text-anchor="start" fill="#111">Ms Ab Grt Crd Bt v</text>
<text transform="translate(96,151) rotate(-47)" font-size="7.7" text-anchor="middle" fill="#111">Sill</text>
<circle cx="143.7" cy="200.6" r="3.8" fill="#000"/>
<path d="M38.5,230.4 L58.5,230.4" stroke="#000" stroke-width="1" fill="none" stroke-dasharray="2.8,1.7"/>
<path d="M37.4,240.8 L56.4,240.8" stroke="#000" stroke-width="1" fill="none"/>
<text x="59.7" y="233.3" font-size="8.35" fill="#111">VM94 (metagreywacke)</text>
<text x="59.7" y="244" font-size="8.35" fill="#111">SKC99 (NaKFMASH)</text>
<rect x="29.4" y="5.7" width="266.6" height="250.3" stroke="#000" stroke-width="1" fill="none"/>
<path d="M29.4,256.00 h4.5 M29.4,251.36 h2.5 M29.4,246.73 h2.5 M29.4,242.09 h2.5 M29.4,237.46 h2.5 M29.4,232.82 h2.5 M29.4,228.19 h4.5 M29.4,223.55 h2.5 M29.4,218.92 h2.5 M29.4,214.28 h2.5 M29.4,209.65 h2.5 M29.4,205.01 h2.5 M29.4,200.38 h4.5 M29.4,195.74 h2.5 M29.4,191.11 h2.5 M29.4,186.47 h2.5 M29.4,181.84 h2.5 M29.4,177.20 h2.5 M29.4,172.57 h4.5 M29.4,167.93 h2.5 M29.4,163.30 h2.5 M29.4,158.66 h2.5 M29.4,154.03 h2.5 M29.4,149.39 h2.5 M29.4,144.76 h4.5 M29.4,140.12 h2.5 M29.4,135.49 h2.5 M29.4,130.85 h2.5 M29.4,126.21 h2.5 M29.4,121.58 h2.5 M29.4,116.94 h4.5 M29.4,112.31 h2.5 M29.4,107.67 h2.5 M29.4,103.04 h2.5 M29.4,98.40 h2.5 M29.4,93.77 h2.5 M29.4,89.13 h4.5 M29.4,84.50 h2.5 M29.4,79.86 h2.5 M29.4,75.23 h2.5 M29.4,70.59 h2.5 M29.4,65.96 h2.5 M29.4,61.32 h4.5 M29.4,56.69 h2.5 M29.4,52.05 h2.5 M29.4,47.42 h2.5 M29.4,42.78 h2.5 M29.4,38.15 h2.5 M29.4,33.51 h4.5 M29.4,28.88 h2.5 M29.4,24.24 h2.5 M29.4,19.61 h2.5 M29.4,14.97 h2.5 M29.4,10.34 h2.5 M29.4,5.70 h4.5 M38.29,256.0 v-2.5 M38.29,5.7 v2.5 M47.17,256.0 v-2.5 M47.17,5.7 v2.5 M56.06,256.0 v-4.5 M56.06,5.7 v4.5 M64.95,256.0 v-2.5 M64.95,5.7 v2.5 M73.83,256.0 v-2.5 M73.83,5.7 v2.5 M82.72,256.0 v-2.5 M82.72,5.7 v2.5 M91.61,256.0 v-2.5 M91.61,5.7 v2.5 M100.49,256.0 v-2.5 M100.49,5.7 v2.5 M109.38,256.0 v-4.5 M109.38,5.7 v4.5 M118.27,256.0 v-2.5 M118.27,5.7 v2.5 M127.15,256.0 v-2.5 M127.15,5.7 v2.5 M136.04,256.0 v-2.5 M136.04,5.7 v2.5 M144.93,256.0 v-2.5 M144.93,5.7 v2.5 M153.81,256.0 v-2.5 M153.81,5.7 v2.5 M162.70,256.0 v-4.5 M162.70,5.7 v4.5 M171.59,256.0 v-2.5 M171.59,5.7 v2.5 M180.47,256.0 v-2.5 M180.47,5.7 v2.5 M189.36,256.0 v-2.5 M189.36,5.7 v2.5 M198.25,256.0 v-2.5 M198.25,5.7 v2.5 M207.13,256.0 v-2.5 M207.13,5.7 v2.5 M216.02,256.0 v-4.5 M216.02,5.7 v4.5 M224.91,256.0 v-2.5 M224.91,5.7 v2.5 M233.79,256.0 v-2.5 M233.79,5.7 v2.5 M242.68,256.0 v-2.5 M242.68,5.7 v2.5 M251.57,256.0 v-2.5 M251.57,5.7 v2.5 M260.45,256.0 v-2.5 M260.45,5.7 v2.5 M269.34,256.0 v-4.5 M269.34,5.7 v4.5 M278.23,256.0 v-2.5 M278.23,5.7 v2.5 M287.11,256.0 v-2.5 M287.11,5.7 v2.5 M296.0,246.10 h-5 M296.0,226.92 h-3 M296.0,207.75 h-5 M296.0,188.57 h-3 M296.0,169.40 h-5 M296.0,150.22 h-3 M296.0,131.05 h-5 M296.0,111.88 h-3 M296.0,92.70 h-5 M296.0,73.53 h-3 M296.0,54.35 h-5 M296.0,35.17 h-3 M296.0,16.00 h-5" stroke="#000" stroke-width="1" fill="none"/>
<text x="26.3" y="259.9" font-size="11" text-anchor="end">1</text>
<text x="26.3" y="231.9" font-size="11" text-anchor="end">2</text>
<text x="26.3" y="204.0" font-size="11" text-anchor="end">3</text>
<text x="26.3" y="176.0" font-size="11" text-anchor="end">4</text>
<text x="26.3" y="148.0" font-size="11" text-anchor="end">5</text>
<text x="26.3" y="120.0" font-size="11" text-anchor="end">6</text>
<text x="26.3" y="92.0" font-size="11" text-anchor="end">7</text>
<text x="26.3" y="64.1" font-size="11" text-anchor="end">8</text>
<text x="26.3" y="36.1" font-size="11" text-anchor="end">9</text>
<text x="26.3" y="8.1" font-size="11" text-anchor="end">10</text>
<text x="56.4" y="270" font-size="11" text-anchor="middle">500</text>
<text x="109.7" y="270" font-size="11" text-anchor="middle">600</text>
<text x="163.0" y="270" font-size="11" text-anchor="middle">700</text>
<text x="216.3" y="270" font-size="11" text-anchor="middle">800</text>
<text x="269.6" y="270" font-size="11" text-anchor="middle">900</text>
<text x="304.6" y="249.4" font-size="11.2">5</text>
<text x="300.0" y="211.1" font-size="11.2">10</text>
<text x="300.0" y="172.7" font-size="11.2">15</text>
<text x="300.0" y="134.4" font-size="11.2">20</text>
<text x="300.0" y="96.0" font-size="11.2">25</text>
<text x="300.0" y="57.6" font-size="11.2">30</text>
<text x="300.0" y="19.3" font-size="11.2">35</text>
<text transform="translate(11.2,130.9) rotate(-90)" font-size="13" text-anchor="middle">P (Kbar)</text>
<text transform="translate(327.6,123.1) rotate(-90)" font-size="13.6" text-anchor="middle">Depth (km)</text>
<text x="163" y="287.4" font-size="13.5" text-anchor="middle">T (ºC)</text>
<path d="M161.9,283.7 h3.4" stroke="#000" stroke-width="0.8"/>
</svg>
</body></html>
